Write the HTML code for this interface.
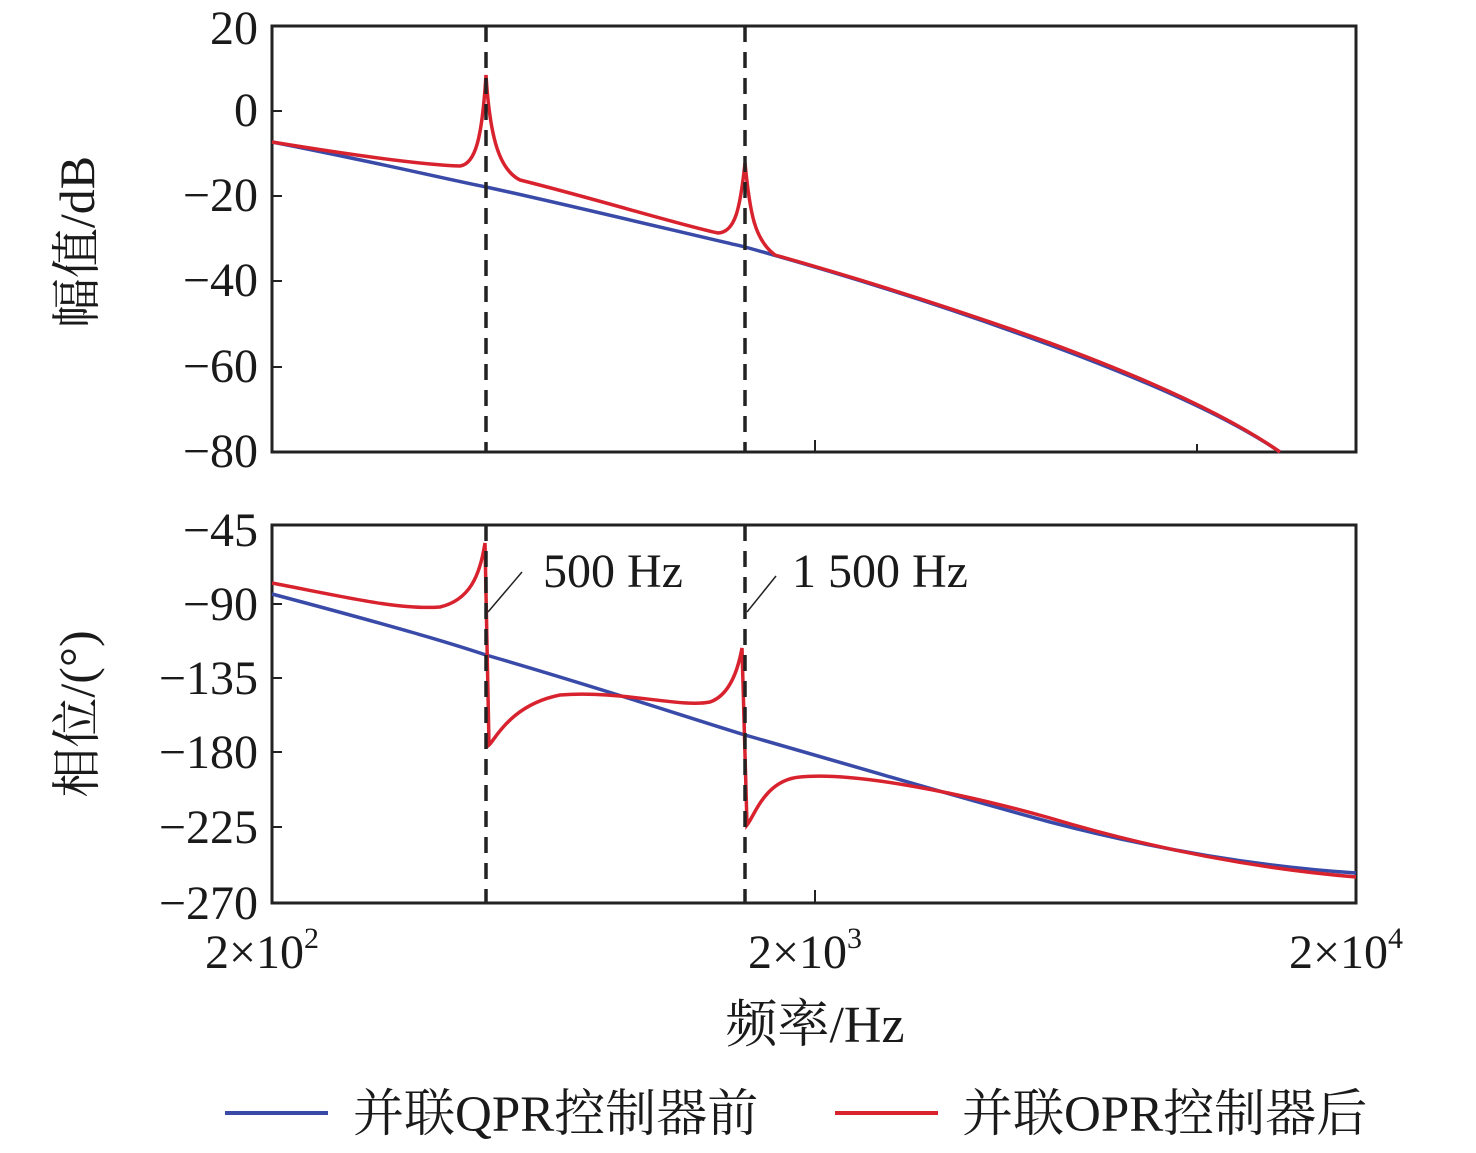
<!DOCTYPE html>
<html><head><meta charset="utf-8"><style>
body{margin:0;background:#fff}
svg text{font-family:"Liberation Serif","Noto Serif CJK SC",serif;fill:#1a1a1a}
</style></head><body>
<svg width="1476" height="1148" viewBox="0 0 1476 1148" xmlns="http://www.w3.org/2000/svg">
<rect x="272" y="26" width="1084" height="426" fill="none" stroke="#222" stroke-width="3"/>
<g stroke="#222" stroke-width="2">
<line x1="272" y1="111" x2="282" y2="111"/><line x1="272" y1="196" x2="282" y2="196"/>
<line x1="272" y1="281" x2="282" y2="281"/><line x1="272" y1="367" x2="282" y2="367"/>
<line x1="815" y1="452" x2="815" y2="440"/><line x1="1197" y1="452" x2="1197" y2="444"/>
</g>
<g font-size="48" text-anchor="end">
<text x="258" y="44">20</text><text x="258" y="126">0</text>
<text x="258" y="211">−20</text><text x="258" y="296">−40</text>
<text x="258" y="382">−60</text><text x="258" y="467">−80</text>
</g>
<path d="M272,142 C380,163 450,180 486,187 C560,203 680,232 745,247 C850,276 950,308 1050,345 C1150,382 1230,418 1280,452" fill="none" stroke="#3a4aa8" stroke-width="3.5"/>
<path d="M272,142 C370,158 430,165 460,166 C475,164 482,140 486,75 C490,140 500,170 520,180 C600,200 680,225 718,233 C735,232 740,210 745,163 C750,215 755,240 775,255 C860,279 950,307 1050,343 C1150,380 1230,417 1280,452" fill="none" stroke="#d8232f" stroke-width="3.5"/>
<rect x="272" y="525" width="1084" height="378" fill="none" stroke="#222" stroke-width="3"/>
<g stroke="#222" stroke-width="2">
<line x1="272" y1="604" x2="282" y2="604"/><line x1="272" y1="678" x2="282" y2="678"/>
<line x1="272" y1="752" x2="282" y2="752"/><line x1="272" y1="827" x2="282" y2="827"/>
<line x1="815" y1="903" x2="815" y2="890"/>
</g>
<g font-size="48" text-anchor="end">
<text x="258" y="546">−45</text><text x="258" y="620">−90</text>
<text x="258" y="694">−135</text><text x="258" y="768">−180</text>
<text x="258" y="843">−225</text><text x="258" y="919">−270</text>
</g>
<path d="M272,594 C400,628 450,643 486,655 C600,688 680,715 745,735 C850,765 950,795 1050,822 C1150,848 1250,866 1356,873" fill="none" stroke="#3a4aa8" stroke-width="3.5"/>
<path d="M272,583 C350,598 400,610 440,607 C470,600 480,575 485,543 L489,745 C495,740 510,705 560,695 C620,690 680,708 710,702 C730,695 738,670 742,648 L747,825 C755,815 765,780 800,777 C850,772 950,790 1050,818 C1150,848 1250,868 1356,877" fill="none" stroke="#d8232f" stroke-width="3.5"/>
<g stroke="#222" stroke-width="3.5" stroke-dasharray="16,10">
<line x1="486" y1="26" x2="486" y2="452"/><line x1="745" y1="26" x2="745" y2="452"/>
<line x1="486" y1="525" x2="486" y2="903"/><line x1="745" y1="525" x2="745" y2="903"/>
</g>
<g stroke="#222" stroke-width="1.5">
<line x1="488" y1="612" x2="522" y2="572"/><line x1="747" y1="612" x2="776" y2="576"/>
</g>
<text x="543" y="587" font-size="48">500 Hz</text>
<text x="792" y="587" font-size="48">1 500 Hz</text>
<g font-size="48" text-anchor="middle">
<text x="262" y="968">2×10<tspan font-size="30" dy="-20">2</tspan></text>
<text x="805" y="968">2×10<tspan font-size="30" dy="-20">3</tspan></text>
<text x="1346" y="968">2×10<tspan font-size="30" dy="-20">4</tspan></text>
<text x="815" y="1042" font-size="52">频率/Hz</text>
</g>
<text font-size="50" text-anchor="middle" transform="translate(94,242) rotate(-90)">幅值/dB</text>
<text font-size="50" text-anchor="middle" transform="translate(94,714) rotate(-90)">相位/(°)</text>
<line x1="225" y1="1113" x2="328" y2="1113" stroke="#3a4aa8" stroke-width="4"/>
<text x="353" y="1131" font-size="51">并联QPR控制器前</text>
<line x1="835" y1="1113" x2="938" y2="1113" stroke="#d8232f" stroke-width="4"/>
<text x="962" y="1131" font-size="51">并联OPR控制器后</text>
</svg>
</body></html>
